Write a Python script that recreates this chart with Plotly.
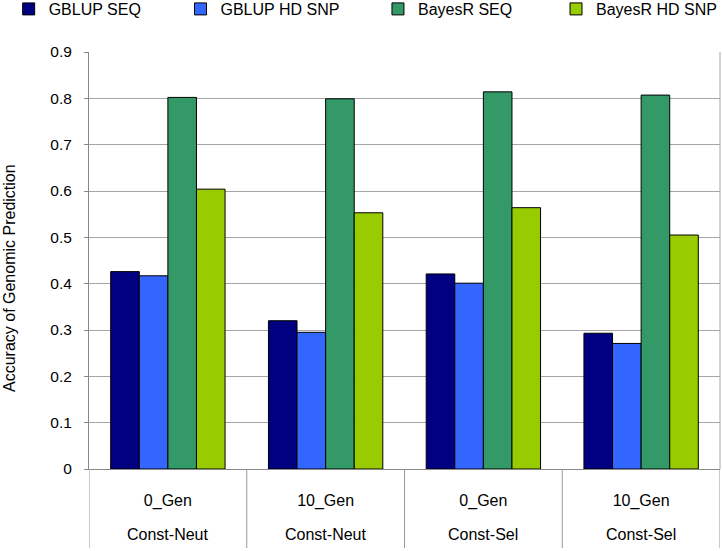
import plotly.graph_objects as go

inner_labels = ["0_Gen", "10_Gen", "0_Gen", "10_Gen"]
outer_labels = ["Const-Neut", "Const-Neut", "Const-Sel", "Const-Sel"]
series_names = ["GBLUP SEQ", "GBLUP HD SNP", "BayesR SEQ", "BayesR HD SNP"]
gblup_seq = [0.426, 0.320, 0.421, 0.293]
gblup_hd = [0.417, 0.295, 0.401, 0.271]
bayesr_seq = [0.802, 0.799, 0.814, 0.807]
bayesr_hd = [0.604, 0.553, 0.564, 0.505]
y_ticks = [0, 0.1, 0.2, 0.3, 0.4, 0.5, 0.6, 0.7, 0.8, 0.9]
y_tick_labels = ["0", "0.1", "0.2", "0.3", "0.4", "0.5", "0.6", "0.7", "0.8", "0.9"]

colors = ["#000080", "#3366FF", "#339966", "#99CC00"]
values = [gblup_seq, gblup_hd, bayesr_seq, bayesr_hd]
legend_ids = ["legend", "legend2", "legend3", "legend4"]
legend_x = [0.012, 0.250, 0.5235, 1.0]
legend_anchor = ["left", "left", "left", "right"]

FONT = "Liberation Sans, Arial, sans-serif"
W, H = 722, 551
ML, MR, MT, MB = 89, 2, 52, 82

x_idx = list(range(len(inner_labels)))

fig = go.Figure()
for name, vals, col, lg in zip(series_names, values, colors, legend_ids):
    fig.add_trace(go.Bar(
        x=x_idx, y=vals, name=name, legend=lg,
        marker=dict(color=col, line=dict(color="#000000", width=1)),
    ))

layout_legends = {}
for lg, lx, la in zip(legend_ids, legend_x, legend_anchor):
    layout_legends[lg] = dict(
        x=lx, xref="container", xanchor=la,
        y=1 - 9 / H, yref="container", yanchor="middle",
        orientation="h", bgcolor="rgba(0,0,0,0)",
        font=dict(family=FONT, size=16, color="#000000"),
        itemclick=False, itemdoubleclick=False,
    )

plot_h = H - MT - MB
shapes = []
for b in [-0.5, 0.5, 1.5, 2.5, 3.5]:
    shapes.append(dict(type="line", xref="x", yref="paper", x0=b, x1=b,
                       y0=0, y1=-(548 - (H - MB)) / plot_h,
                       line=dict(color="#999999", width=1)))
shapes.append(dict(type="line", xref="paper", yref="paper", x0=1, x1=1, y0=0, y1=1,
                   line=dict(color="#A6A6A6", width=1)))

annotations = []
for i, lab in enumerate(outer_labels):
    annotations.append(dict(x=i, xref="x", y=-(534 - (H - MB)) / plot_h, yref="paper",
                            text=lab, showarrow=False, xanchor="center", yanchor="middle",
                            font=dict(family=FONT, size=16, color="#000000")))
annotations.append(dict(x=-(ML - 9) / (W - ML - MR), xref="paper",
                        y=(H - MB - 278) / plot_h, yref="paper",
                        text="Accuracy of Genomic Prediction", textangle=-90,
                        showarrow=False, xanchor="center", yanchor="middle",
                        font=dict(family=FONT, size=16, color="#000000")))

fig.update_layout(
    width=W, height=H, autosize=False,
    margin=dict(l=ML, r=MR, t=MT, b=MB, pad=0, autoexpand=False),
    paper_bgcolor="white", plot_bgcolor="white",
    barmode="group", bargap=0.275, bargroupgap=0,
    showlegend=True,
    shapes=shapes, annotations=annotations,
    font=dict(family=FONT, size=15, color="#000000"),
    xaxis=dict(
        tickmode="array", tickvals=x_idx, ticktext=inner_labels,
        range=[-0.5, 3.5], showgrid=False, zeroline=False,
        showline=True, linecolor="#888888", linewidth=1,
        ticks="", ticklabelstandoff=17,
        tickfont=dict(family=FONT, size=16, color="#000000"),
        fixedrange=True,
    ),
    yaxis=dict(
        tickmode="array", tickvals=y_ticks, ticktext=y_tick_labels,
        range=[0, 0.9], showgrid=True, gridcolor="#A6A6A6", gridwidth=1,
        zeroline=False, showline=True, linecolor="#888888", linewidth=1,
        ticks="outside", ticklen=4, tickcolor="#888888",
        ticklabelstandoff=9,
        tickfont=dict(family=FONT, size=15.5, color="#000000"),
        fixedrange=True,
    ),
    **layout_legends,
)

fig.write_html("out.html", config={"displayModeBar": False},
               post_script="document.body.style.margin='0';")
